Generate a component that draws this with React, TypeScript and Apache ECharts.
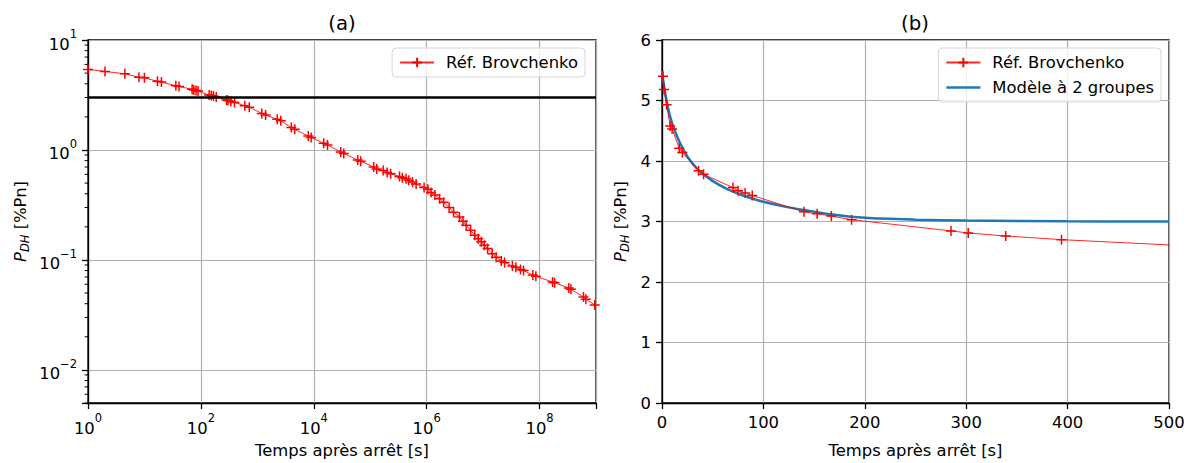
import React, { useEffect, useRef } from "react";
import * as echarts from "echarts";

// Reference decay-heat data (Brovchenko): time after shutdown [s], power [%Pn]
const refTime = [
  1, 2, 4.5, 8, 10, 17, 20, 36, 41, 70, 75, 82, 89, 140, 153, 167, 187, 285, 302, 339, 394,
  600, 720, 1200, 1400, 2250, 2600, 4000, 4600, 8000, 9000, 15000, 17500, 30000, 34000,
  60000, 68000, 115000, 130000, 170000, 200000, 230000, 330000, 370000, 430000, 480000,
  560000, 650000, 900000, 1050000, 1.2e6, 1.4e6, 1.7e6, 2.0e6, 2.5e6, 3.0e6, 3.8e6, 4.4e6,
  5.0e6, 6.0e6, 7.1e6, 8.2e6, 9.3e6, 1.05e7, 1.2e7, 1.45e7, 1.7e7, 2.1e7, 2.4e7, 3.3e7,
  3.8e7, 4.6e7, 5.2e7, 7.6e7, 8.6e7, 1.7e8, 1.85e8, 3.3e8, 3.6e8, 6.0e8, 6.6e8, 9.5e8,
];
const refPower = [
  5.4, 5.18, 4.93, 4.58, 4.53, 4.21, 4.14, 3.84, 3.78, 3.56, 3.51, 3.47, 3.43, 3.16, 3.13,
  3.09, 3.03, 2.845, 2.81, 2.76, 2.7, 2.53, 2.45, 2.15, 2.08, 1.9, 1.84, 1.6, 1.54, 1.34,
  1.3, 1.15, 1.11, 0.96, 0.93, 0.81, 0.79, 0.7, 0.67, 0.65, 0.625, 0.607, 0.574, 0.56,
  0.547, 0.53, 0.51, 0.49, 0.455, 0.44, 0.41, 0.39, 0.36, 0.335, 0.3, 0.272, 0.246, 0.225,
  0.207, 0.186, 0.168, 0.156, 0.146, 0.136, 0.127, 0.114, 0.106, 0.098, 0.095, 0.088,
  0.086, 0.082, 0.08, 0.073, 0.071, 0.063, 0.062, 0.0555, 0.054, 0.046, 0.044, 0.039,
];

// Two-group model curve
const modelTime = [0, 3, 6, 10, 15, 20, 26, 36, 49, 65, 80, 97, 120, 140, 170, 200, 250, 300, 400, 500];
const modelPower = [5.48, 5.14, 4.87, 4.62, 4.4, 4.22, 4.05, 3.85, 3.68, 3.53, 3.43, 3.34, 3.25, 3.19, 3.11, 3.06, 3.03, 3.015, 3.004, 3.0];

// Horizontal reference level in panel a
const limitLevel = 3;

// Axis ranges
const logTimeMin = 1;
const logTimeMax = 1e9;
const logPowerMin = 0.005;
const logPowerMax = 10;
const linTimeMax = 500;
const linPowerMax = 6;

const minorMantissas = [2, 3, 4, 5, 6, 7, 8, 9];
const minorDecades = [-3, -2, -1, 0];

const RED_NAME = "Réf. Brovchenko";
const BLUE_NAME = "Modèle à 2 groupes";

const FONT = "DejaVu Sans";
const FS = 16.4;
const FS_SUP = 11.5;
const LW = 1.3;

const supRich = {
  b: { fontSize: FS, fontFamily: FONT, color: "#000", lineHeight: 24, verticalAlign: "bottom" },
  sup: { fontSize: FS_SUP, fontFamily: FONT, color: "#000", lineHeight: 12, verticalAlign: "top" },
};

const nameRich = {
  i: { fontSize: FS, fontFamily: FONT, fontStyle: "italic", color: "#000", lineHeight: 22, verticalAlign: "middle" },
  s: { fontSize: FS_SUP, fontFamily: FONT, fontStyle: "italic", color: "#000", lineHeight: 13, verticalAlign: "bottom" },
  n: { fontSize: FS, fontFamily: FONT, color: "#000", lineHeight: 22, verticalAlign: "middle" },
};

const expLabel = (v: number) => {
  const r = Math.round(v);
  if (Math.abs(v - r) > 1e-6) return "";
  const s = r < 0 ? "\u2212" + Math.abs(r) : String(r);
  return `{b|10}{sup|${s}}`;
};

const plusSymbol = "path://M5,0L5,10M0,5L10,5";
const lineIcon = "path://M0,0L34,0L34,2.6L0,2.6Z";

export default function App() {
  const ref = useRef<HTMLDivElement>(null);
  useEffect(() => {
    if (!ref.current) return;
    const chart = echarts.init(ref.current, undefined, { renderer: "svg" });

    const logData = refTime.map((t, i) => [Math.log10(t), Math.log10(refPower[i])]);
    const linData = refTime.map((t, i) => [t, refPower[i]]);
    const modelData = modelTime.map((t, i) => [t, modelPower[i]]);
    const yMinLog = Math.log10(logPowerMin);
    const yMaxLog = Math.log10(logPowerMax);
    const minorTicks: number[][] = [];
    minorDecades.forEach((k) =>
      minorMantissas.forEach((m) => {
        const v = Math.log10(m) + k;
        if (v >= yMinLog && v <= yMaxLog) minorTicks.push([0, v]);
      })
    );

    const axisCommon = {
      axisLine: { show: true, onZero: false, lineStyle: { color: "#000", width: LW } },
      axisTick: { show: true, inside: false, length: 6, lineStyle: { color: "#000", width: LW } },
      splitLine: { show: true, lineStyle: { color: "#b0b0b0", width: 1.2 } },
      nameTextStyle: { fontSize: FS, fontFamily: FONT, color: "#000" },
    };

    const redSeriesBase = {
      type: "line",
      name: RED_NAME,
      symbol: plusSymbol,
      symbolSize: 10,
      showAllSymbol: true,
      itemStyle: { color: "#ff0000", borderColor: "#ff0000", borderWidth: 1.5 },
      lineStyle: { color: "#ff0000", width: 1, opacity: 0.85 },
      emphasis: { disabled: true },
    };

    const legendCommon = {
      orient: "vertical",
      itemWidth: 34,
      itemHeight: 12,
      itemGap: 6,
      padding: [5, 7, 5, 7],
      borderColor: "#d6d6d6",
      borderWidth: 1,
      borderRadius: 4,
      backgroundColor: "rgba(255,255,255,0.8)",
      textStyle: { fontSize: FS, fontFamily: FONT, color: "#000", padding: [0, 0, 0, 7], lineHeight: 19 },
      selectedMode: false,
    };

    const option: any = {
      animation: false,
      textStyle: { fontFamily: FONT },
      grid: [
        { left: 88, top: 40, width: 508, height: 363, show: true, borderColor: "#000", borderWidth: LW, backgroundColor: "transparent" },
        { left: 662, top: 40, width: 507, height: 363, show: true, borderColor: "#000", borderWidth: LW, backgroundColor: "transparent" },
      ],
      xAxis: [
        {
          ...axisCommon,
          type: "value",
          gridIndex: 0,
          min: Math.log10(logTimeMin),
          max: Math.log10(logTimeMax),
          interval: 2,
          name: "Temps après arrêt [s]",
          nameLocation: "middle",
          nameGap: 39,
          axisLabel: { formatter: (v: number) => (Math.round(v) % 2 === 0 && v < 9 ? expLabel(v) : ""), rich: supRich, margin: 9, color: "#000" },
        },
        {
          ...axisCommon,
          type: "value",
          gridIndex: 1,
          min: 0,
          max: linTimeMax,
          interval: 100,
          name: "Temps après arrêt [s]",
          nameLocation: "middle",
          nameGap: 39,
          axisLabel: { fontSize: FS, fontFamily: FONT, color: "#000", margin: 11 },
        },
      ],
      yAxis: [
        {
          ...axisCommon,
          type: "value",
          gridIndex: 0,
          min: yMinLog,
          max: yMaxLog,
          splitNumber: 4,
          name: "{i|P}{s|DH}{n| [%Pn]}",
          nameLocation: "middle",
          nameGap: 57,
          nameTextStyle: { rich: nameRich },
          axisLabel: { formatter: expLabel, rich: supRich, margin: 11, color: "#000" },
        },
        {
          ...axisCommon,
          type: "value",
          gridIndex: 1,
          min: 0,
          max: linPowerMax,
          interval: 1,
          name: "{i|P}{s|DH}{n| [%Pn]}",
          nameLocation: "middle",
          nameGap: 31,
          nameTextStyle: { rich: nameRich },
          axisLabel: { fontSize: FS, fontFamily: FONT, color: "#000", margin: 11 },
        },
      ],
      legend: [
        { ...legendCommon, data: [RED_NAME], right: 604, top: 48 },
        { ...legendCommon, data: [RED_NAME, { name: BLUE_NAME, icon: lineIcon }], right: 28, top: 48 },
      ],
      graphic: [
        { type: "text", x: 342, y: 23, style: { text: "(a)", fontSize: 19.7, fontFamily: FONT, fill: "#000", textAlign: "center", textVerticalAlign: "middle" } },
        { type: "text", x: 915, y: 23, style: { text: "(b)", fontSize: 19.7, fontFamily: FONT, fill: "#000", textAlign: "center", textVerticalAlign: "middle" } },
      ],
      series: [
        {
          ...redSeriesBase,
          xAxisIndex: 0,
          yAxisIndex: 0,
          data: logData,
          z: 3,
        },
        {
          type: "line",
          name: "limit",
          xAxisIndex: 0,
          yAxisIndex: 0,
          data: [],
          markLine: {
            silent: true,
            symbol: "none",
            label: { show: false },
            lineStyle: { color: "#000", width: 2.6, type: "solid" },
            data: [{ yAxis: Math.log10(limitLevel) }],
          },
          z: 4,
        },
        {
          type: "custom",
          name: "minorTicks",
          xAxisIndex: 0,
          yAxisIndex: 0,
          clip: false,
          silent: true,
          data: minorTicks,
          renderItem: (params: any, api: any) => {
            const p = api.coord([api.value(0), api.value(1)]);
            return {
              type: "line",
              shape: { x1: p[0] - 3.4, y1: p[1], x2: p[0], y2: p[1] },
              style: { stroke: "#000", lineWidth: 1 },
            };
          },
        },
        {
          ...redSeriesBase,
          xAxisIndex: 1,
          yAxisIndex: 1,
          data: linData,
          clip: true,
          z: 4,
        },
        {
          type: "line",
          name: BLUE_NAME,
          xAxisIndex: 1,
          yAxisIndex: 1,
          data: modelData,
          symbol: "none",
          smooth: 0.3,
          itemStyle: { color: "#1f77b4" },
          lineStyle: { color: "#1f77b4", width: 2.5 },
          emphasis: { disabled: true },
          z: 3,
        },
      ],
    };

    chart.setOption(option);
    return () => chart.dispose();
  }, []);

  return (
    <div
      ref={ref}
      style={{ position: "absolute", left: 0, top: 0, width: 1189, height: 463, background: "#fff" }}
    />
  );
}
